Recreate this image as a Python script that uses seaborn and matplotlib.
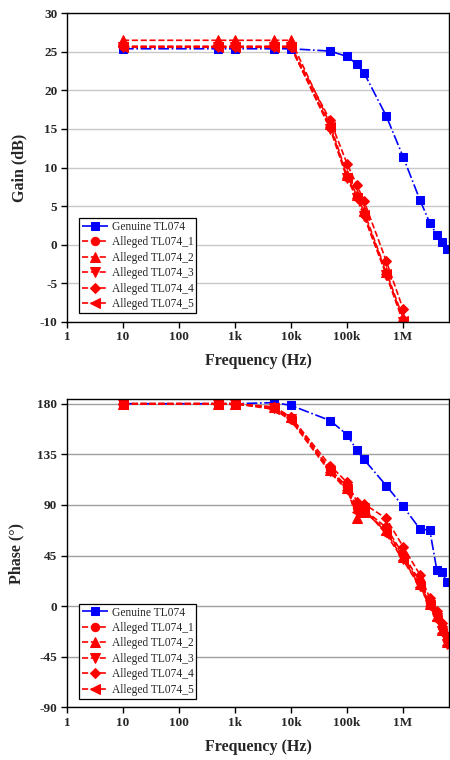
import matplotlib
matplotlib.use("Agg")
import matplotlib.pyplot as plt
import seaborn as sns
from matplotlib.ticker import FixedLocator, FixedFormatter, NullLocator

sns.set_style("white")
plt.rcParams['font.family'] = ['Liberation Serif', 'DejaVu Serif']

# ---------------- data ----------------
freq = [10, 500, 1e3, 5e3, 1e4, 5e4, 1e5, 1.5e5, 2e5, 5e5, 1e6, 2e6, 3e6, 4e6, 5e6, 6e6]
freq_gain_red = [10, 500, 1e3, 5e3, 1e4, 5e4, 1e5, 1.5e5, 2e5, 5e5, 1e6]

labels = ["Genuine TL074", "Alleged TL074_1", "Alleged TL074_2",
          "Alleged TL074_3", "Alleged TL074_4", "Alleged TL074_5"]

gain_genuine = [25.4, 25.4, 25.4, 25.4, 25.4, 25.1, 24.4, 23.4, 22.3, 16.7, 11.4, 5.8, 2.8, 1.3, 0.4, -0.6]
gain_a1 = [25.7, 25.7, 25.7, 25.7, 25.7, 15.2, 8.8, 6.2, 4.0, -3.7, -9.8]
gain_a2 = [26.5, 26.5, 26.5, 26.5, 26.5, 15.6, 9.0, 6.4, 4.3, -3.5, -9.5]
gain_a3 = [25.6, 25.6, 25.6, 25.6, 25.6, 15.0, 8.6, 6.0, 3.7, -3.9, -10.0]
gain_a4 = [25.7, 25.7, 25.7, 25.7, 25.7, 16.1, 10.5, 7.7, 5.7, -2.1, -8.35]
gain_a5 = [25.6, 25.6, 25.6, 25.6, 25.6, 15.3, 8.7, 6.1, 3.9, -3.8, -9.9]

phase_genuine = [180, 180, 180, 181, 178.5, 165, 152.5, 138.5, 130.5, 107.2, 88.8, 68.6, 67.5, 32.5, 30.6, 21.2]
phase_a1 = [180, 180, 180, 176, 167, 122, 106, 88, 86, 70, 46, 22, 3, -7, -19, -30]
phase_a2 = [180, 180, 180, 177, 168, 121, 105, 78, 84, 68, 44, 20, 2, -9, -21, -32]
phase_a3 = [180, 180, 180, 176, 166, 120, 104, 86, 85, 66, 42, 18, 1, -11, -22, -34]
phase_a4 = [180, 180, 180, 177, 168, 125, 110, 93, 91, 78, 53, 28, 7, -4, -15, -27]
phase_a5 = [180, 180, 180, 175, 165, 119, 103, 84, 87, 64, 41, 17, 0, -12, -24, -35]

xticks = [1, 10, 100, 1e3, 1e4, 1e5, 1e6]
xticklabels = ["1", "10", "100", "1k", "10k", "100k", "1M"]
gain_ticks = [-10, -5, 0, 5, 10, 15, 20, 25, 30]
phase_ticks = [-90, -45, 0, 45, 90, 135, 180]

# ---------------- styles ----------------
markers = ["s", "o", "^", "v", "D", "<"]
colors = ["#0000FF"] + ["#FF0000"] * 5
lstyles = ["-."] + ["--"] * 5
msizes = [5.5, 6, 6.5, 6.5, 5.5, 6.5]

fig = plt.figure(figsize=(4.5, 7.6), dpi=100)
ax1 = fig.add_axes([0.1489, 0.5767, 0.8496, 0.4058])
ax2 = fig.add_axes([0.1489, 0.0693, 0.8496, 0.4057])

gain_sets = [(freq, gain_genuine), (freq_gain_red, gain_a1), (freq_gain_red, gain_a2),
             (freq_gain_red, gain_a3), (freq_gain_red, gain_a4), (freq_gain_red, gain_a5)]
phase_sets = [(freq, phase_genuine), (freq, phase_a1), (freq, phase_a2),
              (freq, phase_a3), (freq, phase_a4), (freq, phase_a5)]

for ax, sets in ((ax1, gain_sets), (ax2, phase_sets)):
    for i, (xs, ys) in enumerate(sets):
        sns.lineplot(x=xs, y=ys, ax=ax, color=colors[i], linestyle=lstyles[i],
                     marker=markers[i], markersize=msizes[i], markeredgecolor=colors[i],
                     linewidth=1.2, label=labels[i], sort=False, estimator=None)

def style_axis(ax, yticks, ylim, ylabel, gridcolor):
    ax.set_xscale("log")
    ax.set_xlim(1, 6.7e6)
    ax.set_ylim(*ylim)
    ax.xaxis.set_major_locator(FixedLocator(xticks))
    ax.xaxis.set_major_formatter(FixedFormatter(xticklabels))
    ax.xaxis.set_minor_locator(NullLocator())
    ax.set_yticks(yticks)
    ax.set_yticklabels([str(t) for t in yticks])
    ax.yaxis.grid(True, color=gridcolor, linewidth=1.0)
    ax.xaxis.grid(False)
    ax.set_axisbelow(True)
    for s in ax.spines.values():
        s.set_color("black")
        s.set_linewidth(1.0)
    ax.tick_params(axis="both", which="major", direction="out", length=4, width=1,
                   color="black", bottom=True, left=True, top=False, right=False,
                   labelsize=9.5, pad=3)
    for lab in ax.get_xticklabels() + ax.get_yticklabels():
        lab.set_fontweight("bold")
    ax.set_xlabel("Frequency (Hz)", fontsize=11.5, fontweight="bold", labelpad=7)
    ax.set_ylabel(ylabel, fontsize=11.5, fontweight="bold", labelpad=9)
    leg = ax.legend(loc="lower left", bbox_to_anchor=(0.031, 0.028), borderaxespad=0,
                    fancybox=False, frameon=True, fontsize=8.3, handlelength=2.3,
                    handletextpad=0.3, labelspacing=0.3, borderpad=0.25,
                    edgecolor="black", framealpha=1)
    leg.get_frame().set_linewidth(0.9)

style_axis(ax1, gain_ticks, (-10, 30), "Gain (dB)", "#c8c8c8")
style_axis(ax2, phase_ticks, (-90, 184.2), "Phase (°)", "#a0a0a0")

fig.savefig("out.png", dpi=100)
